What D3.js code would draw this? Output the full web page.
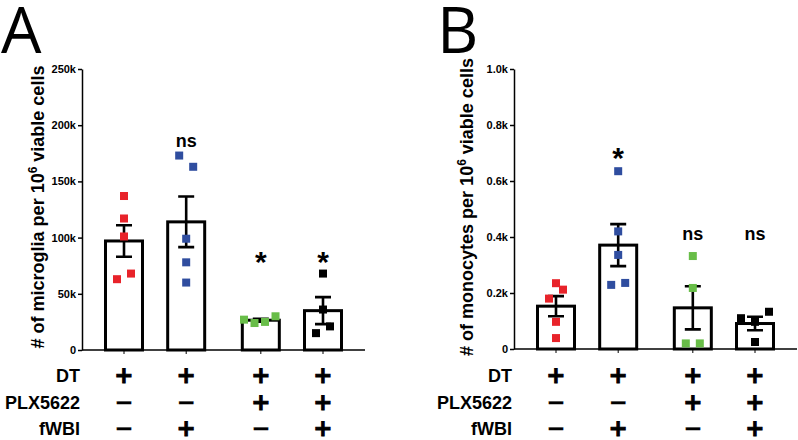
<!DOCTYPE html>
<html lang="en">
<head>
  <meta charset="UTF-8">
  <title>Microglia and monocytes</title>
  <script src="https://d3js.org/d3.v7.min.js"></script>
  <style>
    body { margin: 0; padding: 0; background: #fff; }
    svg { display: block; }
    text { font-family: "Liberation Sans", Arial, sans-serif; font-weight: bold; fill: #000; }
    .panel-letter { font-family: "Open Sans", sans-serif; font-weight: 400; font-size: 64px; }
    .sign { font-family: "DejaVu Sans", sans-serif; font-weight: bold; font-size: 23px; stroke: #000; stroke-width: 0.9px; }
    .dash { stroke-width: 0.2px; }
    .axis path, .axis line { stroke: #000; stroke-width: 1.5px; }
    .axis text { font-size: 11px; font-weight: bold; }
    .bar { fill: #fff; stroke: #000; stroke-width: 3px; }
    .err { stroke: #000; stroke-width: 2.6px; fill: none; }
  </style>
</head>
<body>
  <svg id="chart" width="798" height="440"></svg>

  <script>
    // treatment rows under the x axis
    const rowNames = ['DT', 'PLX5622', 'fWBI'];
    const rowSigns = [
      ['+', '+', '+', '+'],
      ['-', '-', '+', '+'],
      ['-', '+', '-', '+']
    ];
    const groupSlots = [0, 1, 2.2, 3.2];
    const groupColors = ['#e8232a', '#2f4d9f', '#68bd48', '#000000'];

    // panel A: microglia (values in k)
    const microMeans = [97, 114, 26.5, 35];
    const microSem = [14, 22.5, 1.3, 12];
    const microPoints = [
      [137, 117, 101, 63, 68],
      [173, 163, 99, 78, 60],
      [27, 24, 25, 30],
      [68, 36, 21, 15]
    ];
    const microJitter = [
      [0, 0, 0, -1, 1],
      [-1, 1, 0, 0, 0],
      [-2.4, -0.9, 0.6, 2.1],
      [0, 0, 1, -1]
    ];
    const microTicks = [0, 50, 100, 150, 200, 250];
    const microStars = ['', 'ns', '*', '*'];
    const microStarAt = [0, 181, 69, 69];

    // panel B: monocytes (values in k)
    const monoMeans = [0.153, 0.371, 0.147, 0.091];
    const monoSem = [0.036, 0.075, 0.077, 0.024];
    const monoPoints = [
      [0.235, 0.212, 0.18, 0.097, 0.039],
      [0.635, 0.42, 0.336, 0.229, 0.236],
      [0.332, 0.218, 0.02, 0.02],
      [0.11, 0.097, 0.133, 0.025]
    ];
    const monoJitter = [
      [0, 1, -1, 0, 0],
      [0, 0, 0, -1, 1],
      [0, 0, -1, 1],
      [-2, 0, 2, 0]
    ];
    const monoTicks = [0, 0.2, 0.4, 0.6, 0.8, 1.0];
    const monoStars = ['', '*', 'ns', 'ns'];
    const monoStarAt = [0, 0.646, 0.39, 0.39];

    const svg = d3.select('#chart');

    function drawPanel(opt) {
      const g = svg.append('g');
      const y = d3.scaleLinear().domain([0, opt.max]).range([opt.bottom, opt.top]);
      const x = d3.scaleLinear().domain([0, 3.2]).range([opt.left + 42, opt.left + 241]);
      const jit = d3.scaleLinear().domain([0, 1]).range([0, 7]);

      // y axis
      g.append('g')
        .attr('class', 'axis')
        .attr('transform', `translate(${opt.left},0)`)
        .call(d3.axisLeft(y).tickValues(opt.ticks).tickSize(4).tickSizeOuter(0).tickPadding(2)
          .tickFormat(opt.fmt));

      // x axis line and small ticks
      g.append('line')
        .attr('x1', opt.left).attr('x2', opt.left + 283)
        .attr('y1', y(0)).attr('y2', y(0))
        .attr('stroke', '#000').attr('stroke-width', 1.5);
      g.selectAll('.xtick').data(groupSlots).enter().append('line')
        .attr('x1', d => x(d)).attr('x2', d => x(d))
        .attr('y1', y(0)).attr('y2', y(0) + 4)
        .attr('stroke', '#000').attr('stroke-width', 1);

      // bars
      g.selectAll('.bar').data(opt.means).enter().append('rect')
        .attr('class', 'bar')
        .attr('x', (d, i) => x(groupSlots[i]) - 18.5)
        .attr('width', 37)
        .attr('y', d => y(d))
        .attr('height', d => y(0) - y(d));

      // error bars
      opt.means.forEach((m, i) => {
        const cx = x(groupSlots[i]);
        const hi = y(m + opt.sem[i]), lo = y(m - opt.sem[i]);
        g.append('path').attr('class', 'err')
          .attr('d', `M${cx},${hi}V${lo}M${cx - 8},${hi}H${cx + 8}M${cx - 8},${lo}H${cx + 8}`);
      });

      // points
      opt.points.forEach((pts, i) => {
        g.selectAll(null).data(pts).enter().append('rect')
          .attr('x', (d, j) => x(groupSlots[i]) + jit(opt.jitter[i][j]) - 4)
          .attr('y', d => y(d) - 4)
          .attr('width', 8).attr('height', 8)
          .attr('fill', groupColors[i]);
      });

      // significance marks
      opt.stars.forEach((s, i) => {
        if (!s) return;
        g.append('text')
          .attr('x', x(groupSlots[i]))
          .attr('y', y(opt.starAt[i]))
          .attr('text-anchor', 'middle')
          .style('font-size', s === '*' ? '30px' : '18px')
          .text(s);
      });

      // y label
      const lab = g.append('text')
        .attr('transform', `translate(${opt.labelX},207) rotate(-90)`)
        .attr('text-anchor', 'middle')
        .style('font-size', '18px');
      lab.append('tspan').text(opt.label);
      lab.append('tspan').attr('dy', -7).style('font-size', '12px').text('6');
      lab.append('tspan').attr('dy', 7).text(' viable cells');

      // panel letter
      g.append('text').attr('class', 'panel-letter')
        .attr('x', opt.letterX).attr('y', 53).text(opt.letter);

      // treatment table
      const rowY = [382, 409, 435];
      rowNames.forEach((r, k) => {
        g.append('text')
          .attr('x', opt.left - 2).attr('y', rowY[k])
          .attr('text-anchor', 'end')
          .style('font-size', '18px')
          .text(r);
        rowSigns[k].forEach((s, i) => {
          g.append('text')
            .attr('class', s === '+' ? 'sign' : 'sign dash')
            .attr('x', x(groupSlots[i])).attr('y', rowY[k] + 1)
            .attr('text-anchor', 'middle')
            .text(s === '+' ? '+' : '\u2212');
        });
      });
    }

    drawPanel({
      left: 82, top: 69, bottom: 350, max: 250,
      ticks: microTicks, fmt: d => d === 0 ? '0' : d + 'k',
      means: microMeans, sem: microSem, points: microPoints, jitter: microJitter,
      stars: microStars, starAt: microStarAt,
      label: '# of microglia per 10', labelX: 44, letter: 'A', letterX: 1
    });

    drawPanel({
      left: 514, top: 69, bottom: 349, max: 1.0,
      ticks: monoTicks, fmt: d => d === 0 ? '0' : d.toFixed(1) + 'k',
      means: monoMeans, sem: monoSem, points: monoPoints, jitter: monoJitter,
      stars: monoStars, starAt: monoStarAt,
      label: '# of monocytes per 10', labelX: 473, letter: 'B', letterX: 437
    });
  </script>
</body>
</html>
